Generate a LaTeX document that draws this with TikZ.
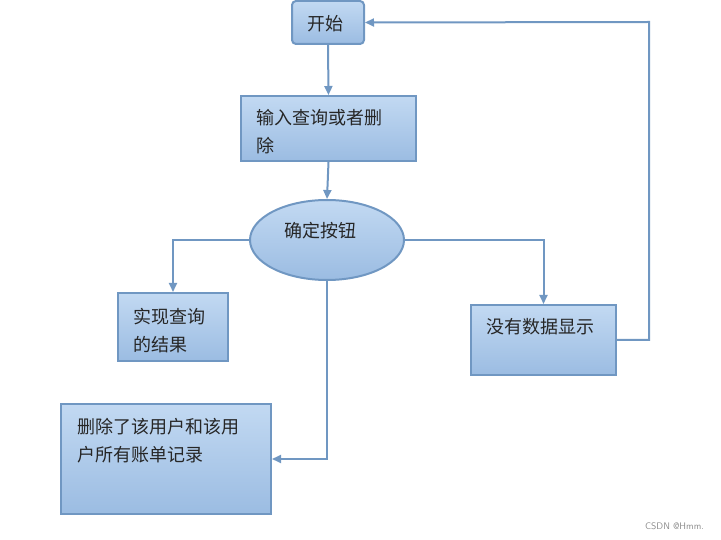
\documentclass[tikz,border=0pt]{standalone}
\usepackage{fontspec}
\newfontfamily\cjk{Noto Sans CJK SC}
\usetikzlibrary{shapes.geometric,arrows.meta}
\definecolor{lineblue}{HTML}{7097C2}
\definecolor{topfill}{HTML}{C2D9F2}
\definecolor{botfill}{HTML}{9BBCE2}
\begin{document}
\begin{tikzpicture}[x=1pt,y=-1pt,
  every node/.style={font=\cjk\fontsize{18}{28}\selectfont},
  boxstyle/.style={draw=lineblue,line width=2pt,top color=topfill,bottom color=botfill,inner sep=0pt},
  link/.style={draw=lineblue,line width=2pt,-{Triangle[width=8pt,length=9pt]}},
  lbl/.style={anchor=west,inner sep=0pt,align=left,text=black!85}]
\useasboundingbox (0,0) rectangle (721,540);
% start
\node[boxstyle,rounded corners=4pt,minimum width=72pt,minimum height=43pt] (start) at (328,22.5) {};
\node[inner sep=0pt,text=black!85] (startt) at (325,24) {开始};
% input
\node[boxstyle,minimum width=175pt,minimum height=65pt] (input) at (328.5,128.5) {};
\node[lbl] (inputt) at (256,132) {输入查询或者删\\除};
% ellipse
\node[boxstyle,ellipse,minimum width=154pt,minimum height=80pt] (btn) at (327,240) {};
\node[inner sep=0pt,text=black!85] (btnt) at (320,231) {确定按钮};
% result
\node[boxstyle,minimum width=110pt,minimum height=68pt] (res) at (173,327) {};
\node[lbl] (rest) at (133,330.5) {实现查询\\的结果};
% none
\node[boxstyle,minimum width=145pt,minimum height=70pt] (none) at (543.5,340) {};
\node[lbl] (nonet) at (486,327) {没有数据显示};
% delete
\node[boxstyle,minimum width=210pt,minimum height=110pt] (del) at (166,459) {};
\node[lbl] (delt) at (77,441) {删除了该用户和该用\\户所有账单记录};
% connectors
\draw[link] (start.south) -- (input.north);
\draw[link] (input.south) -- (btn.north);
\draw[link] (btn.west) -| (res.north);
\draw[link] (btn.east) -| (none.north);
\draw[link] (btn.south) |- (del.east);
\coordinate (cr) at (649,340);
\coordinate (ct) at (649,22);
\draw[link] (none.east) -- (cr) -- (ct) -- (start.east);
% watermark
\node[font=\sffamily\fontsize{9.5}{9.5}\selectfont,text=black!45,inner sep=0pt] (wm) at (674.5,526) {CSDN @Hmm.};
\end{tikzpicture}
\end{document}
